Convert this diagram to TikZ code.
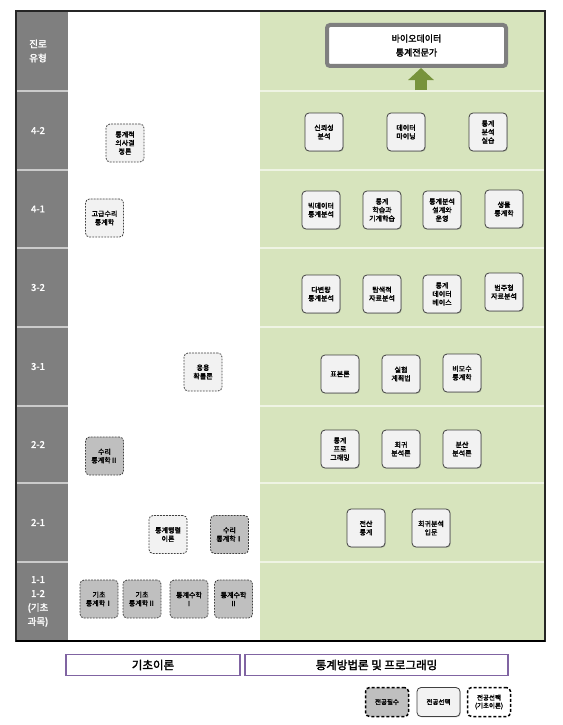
\documentclass[tikz,border=0pt]{standalone}
\usepackage{fontspec}
\setmainfont{Noto Sans CJK KR}[BoldFont={Noto Sans CJK KR},BoldFeatures={FakeBold=2}]
\usetikzlibrary{arrows.meta,shadows}
\definecolor{hdrgray}{HTML}{7F7F7F}
\definecolor{fieldgreen}{HTML}{D7E4BD}
\definecolor{boxfill}{HTML}{F2F2F2}
\definecolor{reqfill}{HTML}{BFBFBF}
\definecolor{edge}{HTML}{404040}
\definecolor{arrowgreen}{HTML}{77933C}
\definecolor{lilac}{HTML}{8064A2}
\tikzset{
  course/.style={rounded corners=4pt,minimum width=38pt,minimum height=38pt,
                 inner sep=1pt,align=center,font=\fontsize{7}{8.5}\selectfont\bfseries},
  method/.style={course,draw=edge,fill=boxfill,line width=0.8pt,
                 drop shadow={shadow xshift=0.8pt,shadow yshift=-0.8pt,opacity=0.35}},
  theory/.style={course,draw=edge,fill=boxfill,line width=0.8pt,dash pattern=on 1.8pt off 1.2pt},
  required/.style={theory,fill=reqfill},
  rowlabel/.style={text=white,align=center,font=\fontsize{9.5}{14}\selectfont\bfseries},
  areabox/.style={draw=lilac,fill=white,line width=1.3pt,minimum height=21pt,
                  font=\fontsize{11.5}{13}\selectfont\bfseries},
  legendbox/.style={rounded corners=4pt,minimum width=43pt,minimum height=29pt,
                    align=center,font=\fontsize{6.5}{8}\selectfont\bfseries},
  legenddash/.style={legendbox,draw=black,line width=1.5pt,dash pattern=on 3pt off 2pt}
}

\begin{document}
\begin{tikzpicture}[x=1pt,y=-1pt,>=Latex]
  \useasboundingbox (0,0) rectangle (562,725);
  % columns
  \fill[hdrgray] (16,11) rectangle (68,641);
  \fill[fieldgreen] (260,11) rectangle (545,641);
  % row rules
  \foreach \y in {91,170,248,327,406,483,562}
    \draw[white,opacity=0.6,line width=1.2pt] (16,\y) -- (545,\y);
  \draw[black!85,line width=1.5pt] (16,11) rectangle (545,641);
  \draw[black,line width=2.2pt] (16,641) -- (545,641);
  % semester labels
  \foreach \y/\lbl [count=\i] in {51/{진로\\유형},130.5/4-2,209/4-1,287.5/3-2,
                                   366.5/3-1,444.5/2-2,522.5/2-1,601.5/{1-1\\1-2\\(기초\\과목)}}
    \node[rowlabel] (row\i) at (38,\y) {\lbl};

  % career goal
  \node[draw=hdrgray,line width=4pt,fill=white,rounded corners=3pt,
        minimum width=179pt,minimum height=41pt,align=center,
        font=\fontsize{9}{14}\selectfont\bfseries] (expert) at (416.5,45.5)
        {바이오데이터\\통계전문가};
  \coordinate (arrowfoot) at (421,90);
  \draw[arrowgreen,line width=12pt,-{Triangle[width=25pt,length=12pt]}]
    (arrowfoot) -- (expert.south -| arrowfoot);

  % methods and programming
  \node[method] (reliab) at (324,132) {신뢰성\\분석};
  \node[method] (mining) at (406,132) {데이터\\마이닝};
  \node[method] (practice) at (488,132) {통계\\분석\\실습};
  \node[method] (bigdata) at (321,210) {빅데이터\\통계분석};
  \node[method] (learning) at (382,210) {통계\\학습과\\기계학습};
  \node[method] (design) at (442,210) {통계분석\\설계와\\운영};
  \node[method] (biostat) at (504,209) {생물\\통계학};
  \node[method] (multivar) at (321,294) {다변량\\통계분석};
  \node[method] (explor) at (382,294) {탐색적\\자료분석};
  \node[method] (database) at (442,294) {통계\\데이터\\베이스};
  \node[method] (categ) at (504,292) {범주형\\자료분석};
  \node[method] (sampling) at (340,374) {표본론};
  \node[method] (experim) at (401,374) {실험\\계획법};
  \node[method] (nonpar) at (462,373) {비모수\\통계학};
  \node[method] (program) at (340,449) {통계\\프로\\그래밍};
  \node[method] (regress) at (401,449) {회귀\\분석론};
  \node[method] (anova) at (462,449) {분산\\분석론};
  \node[method] (compstat) at (366,528) {전산\\통계};
  \node[method] (regintro) at (431,528) {회귀분석\\입문};

  % basic theory
  \node[theory] (decision) at (125,143) {통계적\\의사결\\정론};
  \node[theory] (advmath) at (104.5,218) {고급수리\\통계학};
  \node[theory] (prob) at (203,372) {응용\\확률론};
  \node[required] (math2) at (104.5,456) {수리\\통계학Ⅱ};
  \node[theory] (matrix) at (168,534.5) {통계행렬\\이론};
  \node[required] (math1) at (229.5,534.5) {수리\\통계학Ⅰ};
  \node[required] (basic1) at (99,599) {기초\\통계학Ⅰ};
  \node[required] (basic2) at (142,599) {기초\\통계학Ⅱ};
  \node[required] (calc1) at (189,599) {통계수학\\Ⅰ};
  \node[required] (calc2) at (233.5,599) {통계수학\\Ⅱ};

  % areas and legend
  \node[areabox,minimum width=174pt] (theoryarea) at (153,665) {기초이론};
  \node[areabox,minimum width=263pt] (methodarea) at (376.5,665) {통계방법론 및 프로그래밍};
  \node[legenddash,fill=reqfill] (legreq) at (387,702) {전공필수};
  \node[legendbox,draw=edge,fill=boxfill,line width=0.8pt,
        drop shadow={shadow xshift=0.8pt,shadow yshift=-0.8pt,opacity=0.35}] (legsel) at (438.5,702) {전공선택};
  \node[legenddash,fill=white] (legbasic) at (489,702) {전공선택\\(기초이론)};
\end{tikzpicture}
\end{document}
